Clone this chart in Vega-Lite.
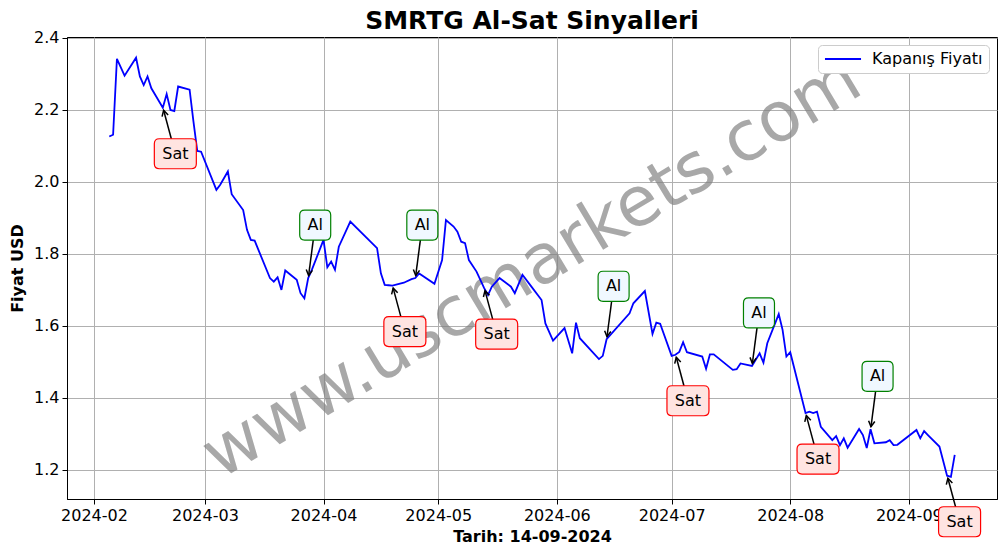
{
  "$schema": "https://vega.github.io/schema/vega-lite/v6.json",
  "width": 930,
  "height": 462,
  "autosize": {"type": "none"},
  "padding": {"left": 67, "top": 37, "right": 9, "bottom": 55},
  "background": "white",
  "title": {"text": "SMRTG Al-Sat Sinyalleri", "font": "DejaVu Sans", "fontSize": 25, "fontWeight": "bold", "color": "black", "offset": -4, "anchor": "middle"},
  "config": {
    "view": {"stroke": "black", "strokeWidth": 1},
    "font": "DejaVu Sans",
    "axis": {
      "labelFont": "DejaVu Sans", "titleFont": "DejaVu Sans", "labelFontSize": 16, "titleFontSize": 16,
      "titleFontWeight": "bold", "labelColor": "black", "titleColor": "black",
      "tickColor": "black", "domainColor": "black", "tickSize": 5, "tickWidth": 1, "domainWidth": 1,
      "gridColor": "#b0b0b0", "gridWidth": 1, "labelPadding": 3
    }
  },
  "datasets": {
    "price": [
      {"date": "2024-02-05", "price": 2.126}, {"date": "2024-02-06", "price": 2.131}, {"date": "2024-02-07", "price": 2.342},
      {"date": "2024-02-09", "price": 2.295}, {"date": "2024-02-12", "price": 2.345}, {"date": "2024-02-13", "price": 2.293},
      {"date": "2024-02-14", "price": 2.269}, {"date": "2024-02-15", "price": 2.293}, {"date": "2024-02-16", "price": 2.260},
      {"date": "2024-02-19", "price": 2.206}, {"date": "2024-02-20", "price": 2.244}, {"date": "2024-02-21", "price": 2.200},
      {"date": "2024-02-22", "price": 2.197}, {"date": "2024-02-23", "price": 2.265}, {"date": "2024-02-26", "price": 2.256},
      {"date": "2024-02-27", "price": 2.168}, {"date": "2024-02-28", "price": 2.086}, {"date": "2024-02-29", "price": 2.084},
      {"date": "2024-03-04", "price": 1.978}, {"date": "2024-03-05", "price": 1.992}, {"date": "2024-03-07", "price": 2.029},
      {"date": "2024-03-08", "price": 1.966}, {"date": "2024-03-11", "price": 1.922}, {"date": "2024-03-12", "price": 1.867},
      {"date": "2024-03-13", "price": 1.839}, {"date": "2024-03-14", "price": 1.837}, {"date": "2024-03-18", "price": 1.733},
      {"date": "2024-03-19", "price": 1.723}, {"date": "2024-03-20", "price": 1.735}, {"date": "2024-03-21", "price": 1.700},
      {"date": "2024-03-22", "price": 1.754}, {"date": "2024-03-25", "price": 1.728}, {"date": "2024-03-26", "price": 1.691},
      {"date": "2024-03-27", "price": 1.677}, {"date": "2024-03-28", "price": 1.733}, {"date": "2024-03-29", "price": 1.757},
      {"date": "2024-04-01", "price": 1.839}, {"date": "2024-04-02", "price": 1.763}, {"date": "2024-04-03", "price": 1.779},
      {"date": "2024-04-04", "price": 1.756}, {"date": "2024-04-05", "price": 1.820}, {"date": "2024-04-08", "price": 1.890},
      {"date": "2024-04-15", "price": 1.816}, {"date": "2024-04-16", "price": 1.746}, {"date": "2024-04-17", "price": 1.714},
      {"date": "2024-04-18", "price": 1.713}, {"date": "2024-04-19", "price": 1.712}, {"date": "2024-04-22", "price": 1.720},
      {"date": "2024-04-24", "price": 1.730}, {"date": "2024-04-25", "price": 1.733}, {"date": "2024-04-26", "price": 1.746},
      {"date": "2024-04-30", "price": 1.717}, {"date": "2024-05-02", "price": 1.783}, {"date": "2024-05-03", "price": 1.894},
      {"date": "2024-05-05", "price": 1.876}, {"date": "2024-05-06", "price": 1.862}, {"date": "2024-05-07", "price": 1.834},
      {"date": "2024-05-08", "price": 1.830}, {"date": "2024-05-09", "price": 1.783}, {"date": "2024-05-11", "price": 1.751},
      {"date": "2024-05-13", "price": 1.705}, {"date": "2024-05-14", "price": 1.686}, {"date": "2024-05-15", "price": 1.709},
      {"date": "2024-05-17", "price": 1.733}, {"date": "2024-05-20", "price": 1.709}, {"date": "2024-05-21", "price": 1.691},
      {"date": "2024-05-23", "price": 1.742}, {"date": "2024-05-25", "price": 1.714}, {"date": "2024-05-28", "price": 1.672},
      {"date": "2024-05-29", "price": 1.607}, {"date": "2024-05-31", "price": 1.559}, {"date": "2024-06-03", "price": 1.594},
      {"date": "2024-06-05", "price": 1.524}, {"date": "2024-06-06", "price": 1.609}, {"date": "2024-06-07", "price": 1.566},
      {"date": "2024-06-12", "price": 1.508}, {"date": "2024-06-13", "price": 1.517}, {"date": "2024-06-14", "price": 1.563},
      {"date": "2024-06-20", "price": 1.635}, {"date": "2024-06-21", "price": 1.663}, {"date": "2024-06-24", "price": 1.697},
      {"date": "2024-06-26", "price": 1.578}, {"date": "2024-06-27", "price": 1.609}, {"date": "2024-06-28", "price": 1.606},
      {"date": "2024-07-01", "price": 1.517}, {"date": "2024-07-02", "price": 1.520}, {"date": "2024-07-03", "price": 1.528},
      {"date": "2024-07-04", "price": 1.555}, {"date": "2024-07-05", "price": 1.527}, {"date": "2024-07-09", "price": 1.515},
      {"date": "2024-07-10", "price": 1.481}, {"date": "2024-07-11", "price": 1.521}, {"date": "2024-07-12", "price": 1.521},
      {"date": "2024-07-17", "price": 1.478}, {"date": "2024-07-18", "price": 1.480}, {"date": "2024-07-19", "price": 1.496},
      {"date": "2024-07-22", "price": 1.489}, {"date": "2024-07-24", "price": 1.524}, {"date": "2024-07-25", "price": 1.498},
      {"date": "2024-07-26", "price": 1.552}, {"date": "2024-07-29", "price": 1.633}, {"date": "2024-07-30", "price": 1.589},
      {"date": "2024-07-31", "price": 1.515}, {"date": "2024-08-01", "price": 1.527}, {"date": "2024-08-05", "price": 1.358},
      {"date": "2024-08-06", "price": 1.362}, {"date": "2024-08-07", "price": 1.358}, {"date": "2024-08-08", "price": 1.362},
      {"date": "2024-08-09", "price": 1.320}, {"date": "2024-08-12", "price": 1.283}, {"date": "2024-08-13", "price": 1.294},
      {"date": "2024-08-14", "price": 1.269}, {"date": "2024-08-15", "price": 1.288}, {"date": "2024-08-16", "price": 1.262},
      {"date": "2024-08-19", "price": 1.314}, {"date": "2024-08-20", "price": 1.297}, {"date": "2024-08-21", "price": 1.261},
      {"date": "2024-08-22", "price": 1.313}, {"date": "2024-08-23", "price": 1.274}, {"date": "2024-08-26", "price": 1.277},
      {"date": "2024-08-27", "price": 1.283}, {"date": "2024-08-28", "price": 1.269}, {"date": "2024-08-29", "price": 1.270},
      {"date": "2024-09-03", "price": 1.311}, {"date": "2024-09-04", "price": 1.288}, {"date": "2024-09-05", "price": 1.308},
      {"date": "2024-09-06", "price": 1.297}, {"date": "2024-09-09", "price": 1.265}, {"date": "2024-09-11", "price": 1.184},
      {"date": "2024-09-12", "price": 1.181}, {"date": "2024-09-13", "price": 1.242}
    ],
    "signals": [
      {"date": "2024-02-19", "price": 2.206, "type": "Sat"},
      {"date": "2024-03-28", "price": 1.733, "type": "Al"},
      {"date": "2024-04-19", "price": 1.712, "type": "Sat"},
      {"date": "2024-04-25", "price": 1.733, "type": "Al"},
      {"date": "2024-05-13", "price": 1.705, "type": "Sat"},
      {"date": "2024-06-14", "price": 1.563, "type": "Al"},
      {"date": "2024-07-02", "price": 1.520, "type": "Sat"},
      {"date": "2024-07-22", "price": 1.489, "type": "Al"},
      {"date": "2024-08-05", "price": 1.358, "type": "Sat"},
      {"date": "2024-08-22", "price": 1.313, "type": "Al"},
      {"date": "2024-09-11", "price": 1.184, "type": "Sat"}
    ]
  },
  "layer": [
    {
      "data": {"values": [{"wm": "www.uscmarkets.com"}]},
      "mark": {"type": "text", "x": {"expr": "width/2"}, "y": {"expr": "height/2"}, "angle": 329, "fontSize": 69, "font": "DejaVu Sans", "color": "gray", "opacity": 0.68, "align": "center", "baseline": "middle"},
      "encoding": {"text": {"field": "wm"}}
    },
    {
      "data": {"name": "price"},
      "mark": {"type": "line", "strokeWidth": 1.8, "clip": false},
      "encoding": {
        "x": {
          "field": "date", "type": "temporal",
          "scale": {"type": "utc", "domain": [{"year": 2024, "month": 1, "date": 24, "hours": 22, "minutes": 48, "utc": true}, {"year": 2024, "month": 9, "date": 24, "hours": 1, "minutes": 12, "utc": true}]},
          "axis": {
            "title": "Tarih: 14-09-2024", "format": "%Y-%m", "grid": true, "labelOverlap": false, "labelFlush": false, "titlePadding": 5,
            "values": [
              {"year": 2024, "month": 2, "date": 1, "utc": true}, {"year": 2024, "month": 3, "date": 1, "utc": true},
              {"year": 2024, "month": 4, "date": 1, "utc": true}, {"year": 2024, "month": 5, "date": 1, "utc": true},
              {"year": 2024, "month": 6, "date": 1, "utc": true}, {"year": 2024, "month": 7, "date": 1, "utc": true},
              {"year": 2024, "month": 8, "date": 1, "utc": true}, {"year": 2024, "month": 9, "date": 1, "utc": true}
            ]
          }
        },
        "y": {
          "field": "price", "type": "quantitative",
          "scale": {"domain": [1.1194, 2.4025], "nice": false, "zero": false},
          "axis": {"title": "Fiyat USD", "format": ".1f", "values": [1.2, 1.4, 1.6, 1.8, 2.0, 2.2, 2.4], "grid": true, "titlePadding": 8}
        },
        "color": {
          "datum": "Kapanış Fiyatı", "type": "nominal",
          "scale": {"range": ["blue"]},
          "legend": {
            "title": null, "orient": "top-right", "offset": 8, "symbolType": "stroke", "symbolSize": 1300,
            "symbolStrokeWidth": 1.8, "labelFontSize": 16, "labelFont": "DejaVu Sans", "labelColor": "black",
            "strokeColor": "#cccccc", "fillColor": "white", "padding": 6, "cornerRadius": 4, "labelOffset": 10,
            "clipHeight": 16
          }
        }
      }
    },
    {
      "data": {"name": "signals"},
      "transform": [{"filter": "datum.type === 'Sat'"}],
      "mark": {"type": "rule", "color": "black", "strokeWidth": 1.5, "xOffset": 0.8, "yOffset": 2.5, "x2Offset": 12.5, "y2Offset": 46},
      "encoding": {
        "x": {"field": "date", "type": "temporal"}, "x2": {"field": "date"},
        "y": {"field": "price", "type": "quantitative"}, "y2": {"field": "price"}
      }
    },
    {
      "data": {"name": "signals"},
      "transform": [{"filter": "datum.type === 'Al'"}],
      "mark": {"type": "rule", "color": "black", "strokeWidth": 1.5, "xOffset": 0.4, "yOffset": -2.5, "x2Offset": 7, "y2Offset": -53},
      "encoding": {
        "x": {"field": "date", "type": "temporal"}, "x2": {"field": "date"},
        "y": {"field": "price", "type": "quantitative"}, "y2": {"field": "price"}
      }
    },
    {
      "data": {"name": "signals"},
      "transform": [{"filter": "datum.type === 'Sat'"}],
      "mark": {"type": "point", "shape": "M-0.55,1L0,0L0.55,1", "filled": false, "stroke": "black", "strokeWidth": 1.5, "opacity": 1, "size": 130, "angle": 345, "xOffset": 0.8, "yOffset": 2.5},
      "encoding": {"x": {"field": "date", "type": "temporal"}, "y": {"field": "price", "type": "quantitative"}}
    },
    {
      "data": {"name": "signals"},
      "transform": [{"filter": "datum.type === 'Al'"}],
      "mark": {"type": "point", "shape": "M-0.55,-1L0,0L0.55,-1", "filled": false, "stroke": "black", "strokeWidth": 1.5, "opacity": 1, "size": 130, "angle": 7.5, "xOffset": 0.4, "yOffset": -2.5},
      "encoding": {"x": {"field": "date", "type": "temporal"}, "y": {"field": "price", "type": "quantitative"}}
    },
    {
      "data": {"name": "signals"},
      "transform": [{"filter": "datum.type === 'Sat'"}],
      "mark": {"type": "point", "shape": "M-0.762,-0.714L0.762,-0.714Q1,-0.714 1,-0.476L1,0.476Q1,0.714 0.762,0.714L-0.762,0.714Q-1,0.714 -1,0.476L-1,-0.476Q-1,-0.714 -0.762,-0.714Z", "filled": true, "fill": "#ffe4e1", "stroke": "red", "strokeWidth": 1.2, "opacity": 1, "fillOpacity": 1, "size": 1764, "xOffset": 12.5, "yOffset": 46},
      "encoding": {"x": {"field": "date", "type": "temporal"}, "y": {"field": "price", "type": "quantitative"}}
    },
    {
      "data": {"name": "signals"},
      "transform": [{"filter": "datum.type === 'Al'"}],
      "mark": {"type": "point", "shape": "M-0.677,-0.968L0.677,-0.968Q1,-0.968 1,-0.645L1,0.645Q1,0.968 0.677,0.968L-0.677,0.968Q-1,0.968 -1,0.645L-1,-0.645Q-1,-0.968 -0.677,-0.968Z", "filled": true, "fill": "aliceblue", "stroke": "green", "strokeWidth": 1.2, "opacity": 1, "fillOpacity": 1, "size": 961, "xOffset": 7, "yOffset": -53},
      "encoding": {"x": {"field": "date", "type": "temporal"}, "y": {"field": "price", "type": "quantitative"}}
    },
    {
      "data": {"name": "signals"},
      "transform": [{"filter": "datum.type === 'Sat'"}],
      "mark": {"type": "text", "fontSize": 16, "font": "DejaVu Sans", "color": "black", "align": "center", "baseline": "middle", "dx": 12.5, "dy": 46},
      "encoding": {"x": {"field": "date", "type": "temporal"}, "y": {"field": "price", "type": "quantitative"}, "text": {"field": "type"}}
    },
    {
      "data": {"name": "signals"},
      "transform": [{"filter": "datum.type === 'Al'"}],
      "mark": {"type": "text", "fontSize": 16, "font": "DejaVu Sans", "color": "black", "align": "center", "baseline": "middle", "dx": 7, "dy": -53},
      "encoding": {"x": {"field": "date", "type": "temporal"}, "y": {"field": "price", "type": "quantitative"}, "text": {"field": "type"}}
    }
  ]
}
